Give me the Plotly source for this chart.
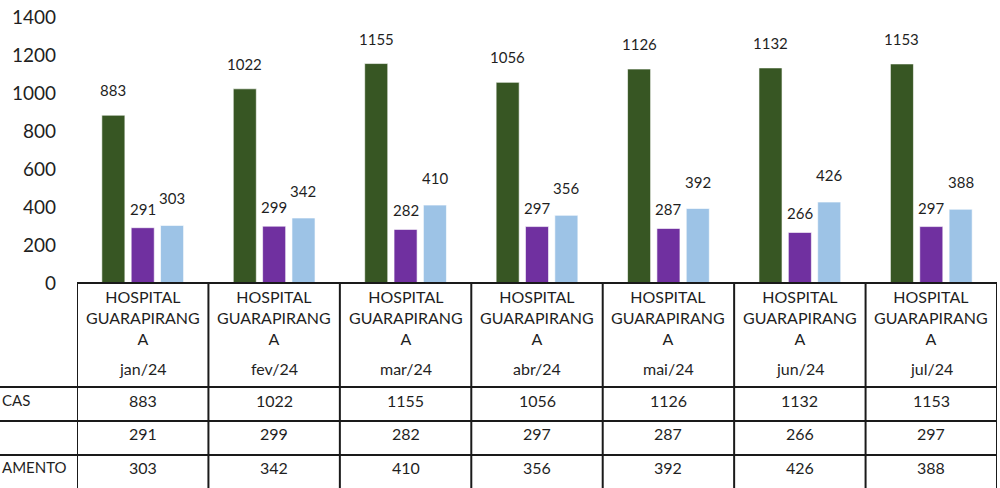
import plotly.graph_objects as go

# ---------------- data ----------------
months = ["jan/24", "fev/24", "mar/24", "abr/24", "mai/24", "jun/24", "jul/24"]
hospital_lines = ["HOSPITAL", "GUARAPIRANG", "A"]   # "HOSPITAL GUARAPIRANGA" as wrapped in the cell
series_names = ["CAS", "", "AMENTO"]                 # visible (cut-off) row labels
s1 = [883, 1022, 1155, 1056, 1126, 1132, 1153]
s2 = [291, 299, 282, 297, 287, 266, 297]
s3 = [303, 342, 410, 356, 392, 426, 388]
y_ticks = [0, 200, 400, 600, 800, 1000, 1200, 1400]

# ---------------- style ----------------
W, H = 1000, 488
ML, MR, MT, MB = 77, 3, 17, 205
colors = ["#375623", "#7030A0", "#9DC3E6"]
label_yshift = [25, 19, 27]
FONT = "Lato, 'Open Sans', sans-serif"
TXT = "#1f1f1f"
LINE = "#1a1a1a"
BARGAP, BARGROUPGAP = 0.33, 0.215

plot_w = W - ML - MR
plot_h = H - MT - MB
cat_px = plot_w / len(months)
slot_px = (1 - BARGAP) * cat_px / 3

def py(pixel_y):
    """figure pixel row -> paper y"""
    return (H - MB - pixel_y) / plot_h

def px(pixel_x):
    return (pixel_x - ML) / plot_w

fig = go.Figure()
all_series = [s1, s2, s3]
for name, vals, c in zip(series_names, all_series, colors):
    fig.add_trace(go.Bar(
        x=months, y=vals, name=name or " ",
        marker=dict(color=c, line=dict(color="rgba(255,255,255,0.6)", width=1)),
        hoverinfo="x+y",
    ))

annotations = []
# data labels
for k, (vals, dy) in enumerate(zip(all_series, label_yshift)):
    for m, v in zip(months, vals):
        annotations.append(dict(
            x=m, y=v, xref="x", yref="y", text=str(v), showarrow=False,
            xshift=(k - 1) * slot_px, yshift=dy, yanchor="middle",
            font=dict(family=FONT, size=15, color=TXT)))

# table header
for m in months:
    annotations.append(dict(
        x=m, y=py(285), xref="x", yref="paper", text="<br>".join(hospital_lines),
        showarrow=False, yanchor="top", align="center",
        font=dict(family=FONT, size=16, color=TXT)))
    annotations.append(dict(
        x=m, y=py(368), xref="x", yref="paper", text=m,
        showarrow=False, yanchor="middle",
        font=dict(family=FONT, size=16, color=TXT)))

# table value rows
row_centers = [400, 433, 467]
for vals, rc in zip(all_series, row_centers):
    for m, v in zip(months, vals):
        annotations.append(dict(
            x=m, y=py(rc), xref="x", yref="paper", text=str(v),
            showarrow=False, yanchor="middle",
            font=dict(family=FONT, size=16, color=TXT)))

# row labels (the source shows only their right-hand ends)
for name, rc in zip(series_names, row_centers):
    if name:
        annotations.append(dict(
            x=px(0), y=py(rc), xref="paper", yref="paper", text=name,
            showarrow=False, xanchor="left", yanchor="middle",
            font=dict(family=FONT, size=15, color=TXT)))

# table grid lines
shapes = []
lw = 2
shapes.append(dict(type="line", xref="paper", yref="paper", x0=0, x1=px(997),
                   y0=0, y1=0, line=dict(color=LINE, width=lw)))
for yy in [387, 421, 455]:
    shapes.append(dict(type="line", xref="paper", yref="paper", x0=px(0), x1=px(997),
                       y0=py(yy), y1=py(yy), line=dict(color=LINE, width=lw)))
for i in range(len(months) + 1):
    shapes.append(dict(type="line", xref="x", yref="paper", x0=i - 0.5, x1=i - 0.5,
                       y0=0, y1=py(H + 2), line=dict(color=LINE, width=lw)))

fig.update_layout(
    width=W, height=H,
    margin=dict(l=ML, r=MR, t=MT, b=MB, autoexpand=False),
    paper_bgcolor="white", plot_bgcolor="white",
    barmode="group", bargap=BARGAP, bargroupgap=BARGROUPGAP,
    showlegend=False,
    annotations=annotations, shapes=shapes,
    xaxis=dict(showticklabels=False, showgrid=False, zeroline=False, showline=False,
               ticks="", range=[-0.5, len(months) - 0.5], automargin=False),
    yaxis=dict(range=[0, 1400], tickvals=y_ticks, showgrid=False, zeroline=False,
               showline=False, ticks="", ticklabelstandoff=20, automargin=False,
               tickfont=dict(family=FONT, size=19, color=TXT)),
)

fig.write_html(
    "out.html",
    config={"displayModeBar": False},
    post_script="document.body.style.margin='0';document.body.style.overflow='hidden';",
)
